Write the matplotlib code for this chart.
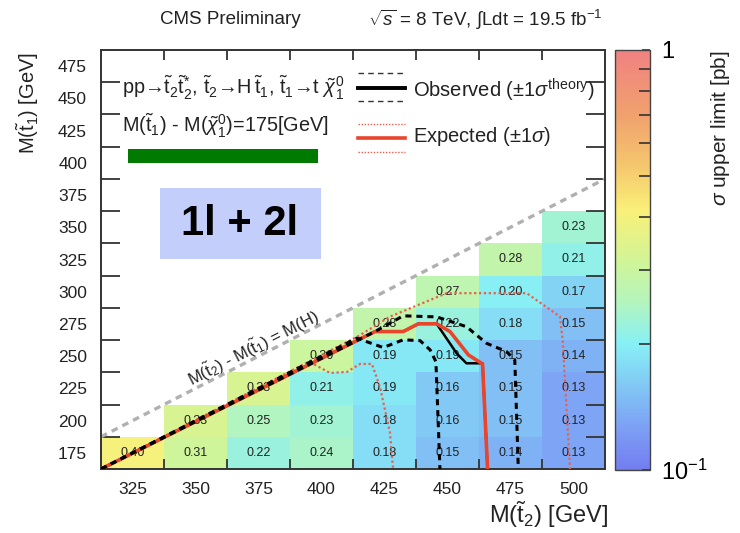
import numpy as np
import matplotlib
matplotlib.use("Agg")
import matplotlib.pyplot as plt
from matplotlib.colors import LinearSegmentedColormap, LogNorm
from matplotlib.lines import Line2D
from matplotlib.patches import Rectangle
import matplotlib.ticker as mticker

plt.rcParams['font.family'] = ['Liberation Sans', 'DejaVu Sans']
plt.rcParams['mathtext.fontset'] = 'custom'
plt.rcParams['mathtext.rm'] = 'Liberation Sans'
plt.rcParams['mathtext.it'] = 'Liberation Sans:italic'
plt.rcParams['mathtext.bf'] = 'Liberation Sans:bold'
plt.rcParams['mathtext.sf'] = 'Liberation Sans'

# ---------------- data ----------------
mt2 = [325, 350, 375, 400, 425, 450, 475, 500]
mt1 = [175, 200, 225, 250, 275, 300, 325, 350, 375, 400, 425, 450, 475]
# upper limits per M(t2) column, starting at M(t1)=175
lim_325 = [0.40]
lim_350 = [0.31, 0.33]
lim_375 = [0.22, 0.25, 0.33]
lim_400 = [0.24, 0.23, 0.21, 0.30]
lim_425 = [0.18, 0.18, 0.19, 0.19, 0.28]
lim_450 = [0.15, 0.16, 0.16, 0.19, 0.22, 0.27]
lim_475 = [0.14, 0.15, 0.15, 0.15, 0.18, 0.20, 0.28]
lim_500 = [0.13, 0.13, 0.13, 0.14, 0.15, 0.17, 0.21, 0.23]
columns = [lim_325, lim_350, lim_375, lim_400, lim_425, lim_450, lim_475, lim_500]

# exclusion contours
obs_x = [312.5, 421.2, 432.4, 438.4, 445.7, 453.6, 457.5, 463.9, 465.9]
obs_y = [162.5, 269.1, 269.1, 275.1, 275.1, 252.3, 244.5, 244.5, 162.5]
obs_up_x = [312.5, 421.2, 432.4, 445.7, 457.5, 465.5, 473.4, 476.7, 478.1]
obs_up_y = [162.5, 269.1, 281.3, 280.5, 272.9, 260.0, 253.6, 247.1, 162.5]
obs_dn_x = [312.5, 414.0, 424.5, 432.4, 439.1, 443.1, 445.4, 447.0]
obs_dn_y = [162.5, 264.0, 256.7, 262.7, 262.1, 254.9, 245.8, 162.5]
exp_x = [312.5, 421.2, 432.4, 438.4, 445.7, 451.0, 458.3, 463.9, 465.9]
exp_y = [162.5, 269.1, 269.1, 275.1, 275.1, 269.1, 251.0, 244.0, 162.5]
exp_up_x = [312.5, 415.0, 427.2, 449.7, 481.4, 494.6, 495.7, 498.6]
exp_up_y = [162.5, 266.0, 280.7, 298.9, 298.9, 280.7, 262.6, 162.5]
exp_dn_x = [312.5, 395.4, 403.4, 410.1, 415.3, 420.0, 423.2, 427.2, 428.4]
exp_dn_y = [162.5, 245.4, 237.0, 237.8, 244.0, 244.0, 226.2, 190.4, 162.5]
m_higgs = 125

# ---------------- figure ----------------
W, H = 740, 533
fig = plt.figure(figsize=(W / 100, H / 100), dpi=100)
def fx(px):
    return px / W
def fy(py):
    return 1 - py / H

ax = fig.add_axes([fx(101), fy(469), fx(605) - fx(101), fy(50) - fy(469)])

cmap = LinearSegmentedColormap.from_list('pastel', [
    (0.00, (115/255, 125/255, 240/255)),
    (0.10, (125/255, 160/255, 245/255)),
    (0.20, (130/255, 200/255, 245/255)),
    (0.30, (135/255, 240/255, 245/255)),
    (0.40, (180/255, 245/255, 190/255)),
    (0.50, (210/255, 245/255, 150/255)),
    (0.62, (250/255, 240/255, 120/255)),
    (0.72, (245/255, 200/255, 110/255)),
    (0.85, (240/255, 160/255, 110/255)),
    (1.00, (240/255, 130/255, 130/255)),
])
norm = LogNorm(vmin=0.1, vmax=1.0)

step = 25
xedges = np.array([m - step / 2 for m in mt2] + [mt2[-1] + step / 2])
yedges = np.array([m - step / 2 for m in mt1] + [mt1[-1] + step / 2])
Z = np.full((len(mt1), len(mt2)), np.nan)
for i, col in enumerate(columns):
    for j, v in enumerate(col):
        Z[j, i] = v
Zm = np.ma.masked_invalid(Z)
mesh = ax.pcolormesh(xedges, yedges, Zm, cmap=cmap, norm=norm, zorder=1)

for i, col in enumerate(columns):
    for j, v in enumerate(col):
        ax.text(mt2[i], mt1[j], f"{v:.2f}", ha='center', va='center',
                fontsize=9, color='#222222', zorder=3)

# diagonal M(t2)-M(t1)=M(H)
dx = np.array([xedges[0], xedges[-1]])
ax.plot(dx, dx - m_higgs, color='#b0b0b0', lw=2.4, dashes=(2, 1.6), zorder=2)
ax.text(373, 256, r'M($\tilde{\mathrm{t}}_2$) - M($\tilde{\mathrm{t}}_1$) = M(H)',
        rotation=27, rotation_mode='anchor', ha='center', va='center',
        fontsize=12, color='#222222', zorder=4)

# contours
ax.plot(exp_up_x, exp_up_y, color='#e8604c', lw=1.6, ls=(0, (1, 1.2)), zorder=4)
ax.plot(exp_dn_x, exp_dn_y, color='#e8604c', lw=1.6, ls=(0, (1, 1.2)), zorder=4)
ax.plot(obs_x, obs_y, color='black', lw=1.8, zorder=5)
ax.plot(exp_x, exp_y, color='#e8452c', lw=2.6, zorder=6)
ax.plot(obs_up_x, obs_up_y, color='black', lw=2.2, dashes=(2, 1.6), zorder=7)
ax.plot(obs_dn_x, obs_dn_y, color='black', lw=2.2, dashes=(2, 1.6), zorder=7)

ax.set_xlim(xedges[0], xedges[-1])
ax.set_ylim(yedges[0], yedges[-1])

# ticks: labels at bin centres, tick marks at bin edges
ax.xaxis.set_major_locator(mticker.FixedLocator(mt2))
ax.xaxis.set_major_formatter(mticker.FixedFormatter([str(v) for v in mt2]))
ax.yaxis.set_major_locator(mticker.FixedLocator(mt1))
ax.yaxis.set_major_formatter(mticker.FixedFormatter([str(v) for v in mt1]))
ax.xaxis.set_minor_locator(mticker.FixedLocator(xedges[1:-1]))
ax.yaxis.set_minor_locator(mticker.FixedLocator(yedges[1:-1]))
ax.tick_params(axis='both', which='major', length=0, labelsize=12.5, colors='#222222')
ax.tick_params(axis='x', which='major', pad=9)
ax.tick_params(axis='y', which='major', pad=10)
ax.tick_params(axis='x', which='minor', direction='in', length=7, width=1.3,
               top=True, bottom=True, color='#333333')
ax.tick_params(axis='y', which='minor', direction='in', length=14, width=1.3,
               left=True, right=True, color='#333333')
for s in ax.spines.values():
    s.set_linewidth(1.4)
    s.set_color('#333333')

# colorbar
cax = fig.add_axes([fx(615), fy(470), fx(650) - fx(615), fy(50) - fy(470)])
cb = fig.colorbar(mesh, cax=cax)
cb.outline.set_linewidth(1.0)
cb.outline.set_edgecolor('#444444')
cb.set_ticks([0.1, 1.0])
cb.set_ticklabels([r'10$^{-1}$', '1'])
cax.yaxis.set_minor_locator(mticker.FixedLocator([0.2, 0.3, 0.4, 0.5, 0.6, 0.7, 0.8, 0.9]))
cax.yaxis.set_minor_formatter(mticker.NullFormatter())
cax.tick_params(which='major', direction='in', length=6, width=1.2, labelsize=17, pad=8, color='#333333')
cax.tick_params(which='minor', direction='in', length=8, width=1.2, color='#333333')
fig.text(fx(720), fy(50), r'$\sigma$ upper limit [pb]', rotation=90, ha='center', va='top',
         fontsize=15, color='#222222')

# axis labels
fig.text(fx(28), fy(52), r'M($\tilde{\mathrm{t}}_1$) [GeV]', rotation=90, ha='center', va='top',
         fontsize=14.5, color='#222222')
fig.text(fx(608), fy(515), r'M($\tilde{\mathrm{t}}_2$) [GeV]', ha='right', va='center',
         fontsize=17, color='#222222')

# header
fig.text(fx(230), fy(20), 'CMS Preliminary', ha='center', va='center', fontsize=13.5, color='#222222')
fig.text(fx(485), fy(20), r'$\sqrt{s}$ = 8 TeV, $\int$Ldt = 19.5 fb$^{-1}$', ha='center', va='center',
         fontsize=13.5, color='#222222')

# process text
fig.text(fx(122), fy(88),
         r'pp→$\tilde{\mathrm{t}}_2\tilde{\mathrm{t}}_2^{*}$, $\tilde{\mathrm{t}}_2$→H$\,\tilde{\mathrm{t}}_1$, $\tilde{\mathrm{t}}_1$→t $\tilde{\chi}_1^0$',
         ha='left', va='center', fontsize=14.3, color='#222222')
fig.text(fx(122), fy(126), r'M($\tilde{\mathrm{t}}_1$) - M($\tilde{\chi}_1^0$)=175[GeV]',
         ha='left', va='center', fontsize=14.3, color='#222222')
fig.add_artist(Rectangle((fx(128), fy(163)), fx(318) - fx(128), fy(149) - fy(163),
                         transform=fig.transFigure, facecolor='#007a00', edgecolor='none'))
fig.add_artist(Rectangle((fx(160), fy(259)), fx(321) - fx(160), fy(188) - fy(259),
                         transform=fig.transFigure, facecolor='#c3cefa', edgecolor='none'))
fig.text(fx(240), fy(224), '1l + 2l', ha='center', va='center', fontsize=30,
         fontweight='bold', color='black')

# legend
def leg_line(py, **kw):
    fig.add_artist(Line2D([fx(358), fx(405)], [fy(py), fy(py)], transform=fig.transFigure, **kw))
leg_line(73, color='#333333', lw=1.0, dashes=(4, 3))
leg_line(88, color='black', lw=2.8)
leg_line(101, color='#333333', lw=1.0, dashes=(4, 3))
leg_line(124, color='#e8604c', lw=1.0, ls=(0, (1, 1.2)))
leg_line(138, color='#e8452c', lw=2.6)
leg_line(152, color='#e8604c', lw=1.0, ls=(0, (1, 1.2)))
fig.text(fx(413), fy(90), r'Observed ($\pm$1$\sigma^{\mathrm{theory}}$)', ha='left', va='center',
         fontsize=14.5, color='#222222')
fig.text(fx(413), fy(137), r'Expected ($\pm$1$\sigma$)', ha='left', va='center',
         fontsize=14.5, color='#222222')

fig.savefig('out.png', dpi=100)
